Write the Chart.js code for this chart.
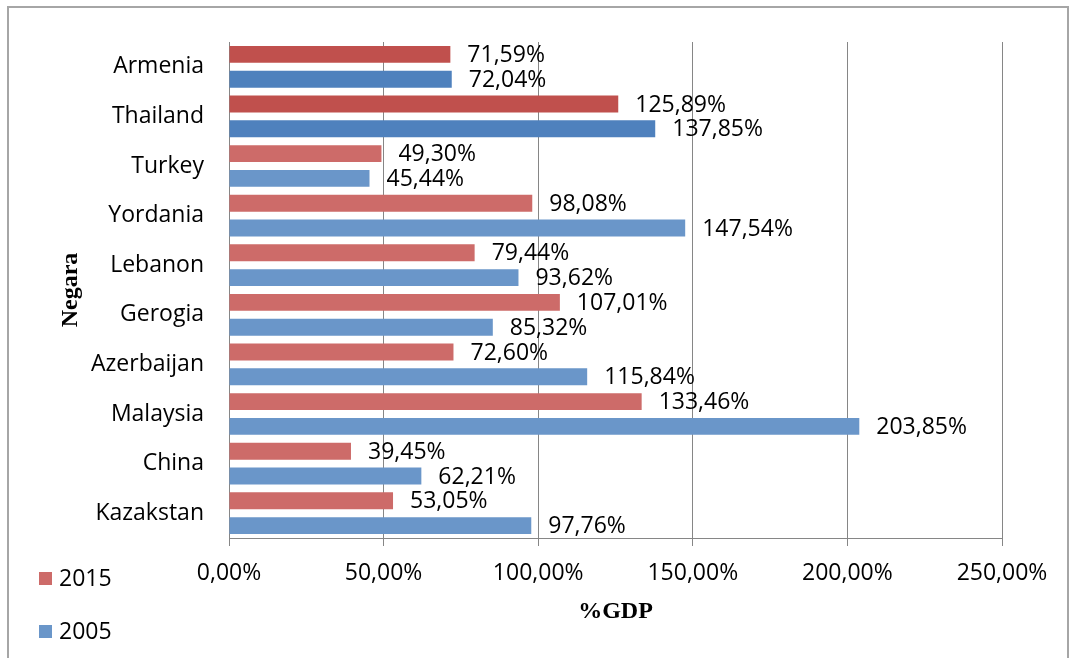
<!DOCTYPE html>
<html>
<head>
<meta charset="utf-8">
<script src="https://cdn.jsdelivr.net/npm/chart.js@4"></script>
<style>
  html, body { margin: 0; padding: 0; background: #fff; }
  #wrap { position: relative; width: 1076px; height: 658px; }
  #frame { position: absolute; left: 7px; top: 6px; width: 1062px; height: 660px; border: 2px solid #a6a6a6; box-sizing: border-box; }
  .leg { position: absolute; left: 39px; font: 23px "Open Sans", sans-serif; color: #000; line-height: 1; }
  .leg span { display: inline-block; width: 13px; height: 13px; margin-right: 7px; vertical-align: 1px; }
</style>
</head>
<body>
<div id="wrap">
  <div id="frame"></div>
  <canvas id="c" width="1076" height="658"></canvas>
  <div class="leg" style="top:566px"><span style="background:#cd6b69"></span>2015</div>
  <div class="leg" style="top:619px"><span style="background:#6a96c9"></span>2005</div>
</div>
<script>
const negara = ['Armenia', 'Thailand', 'Turkey', 'Yordania', 'Lebanon', 'Gerogia', 'Azerbaijan', 'Malaysia', 'China', 'Kazakstan']
const nilai2015 = [71.59, 125.89, 49.30, 98.08, 79.44, 107.01, 72.60, 133.46, 39.45, 53.05]
const nilai2005 = [72.04, 137.85, 45.44, 147.54, 93.62, 85.32, 115.84, 203.85, 62.21, 97.76]
const xTicks = [0, 50, 100, 150, 200, 250]

const fmt = v => v.toFixed(2).replace('.', ',') + '%'

const merah = { dark: '#c0504d', light: '#cd6b69' }
const biru = { dark: '#4f81bd', light: '#6a96c9' }

// labels drawn just past the end of each bar
const labelPlugin = {
    id: 'barLabels',
    afterDatasetsDraw(chart) {
        const ctx = chart.ctx
        ctx.save()
        ctx.font = '23px "Open Sans"'
        ctx.fillStyle = '#000'
        ctx.textBaseline = 'middle'
        ctx.textAlign = 'left'
        chart.data.datasets.forEach((ds, i) => {
            chart.getDatasetMeta(i).data.forEach((bar, j) => {
                ctx.fillText(fmt(ds.data[j]), bar.x + 17, bar.y + 1)
            })
        })
        ctx.restore()
    },
}

new Chart(document.getElementById('c'), {
    type: 'bar',
    data: {
        labels: negara,
        datasets: [
            {
                label: '2015',
                data: nilai2015,
                backgroundColor: c => (c.dataIndex < 2 ? merah.dark : merah.light),
            },
            {
                label: '2005',
                data: nilai2005,
                backgroundColor: c => (c.dataIndex < 2 ? biru.dark : biru.light),
            },
        ],
    },
    options: {
        indexAxis: 'y',
        responsive: false,
        animation: false,
        categoryPercentage: 1.0,
        barPercentage: 0.68,
        layout: { padding: { left: 0, top: 42, right: 74, bottom: 0 } },
        plugins: {
            legend: { display: false },
            tooltip: { enabled: false },
        },
        scales: {
            x: {
                min: 0,
                max: 250,
                afterBuildTicks: s => { s.ticks = xTicks.map(v => ({ value: v })) },
                afterFit: s => { s.height = 120 },
                grid: { color: '#868686', lineWidth: 1, tickLength: 8 },
                border: { color: '#868686' },
                ticks: {
                    color: '#000',
                    font: { family: 'Open Sans', size: 23 },
                    padding: 14,
                    callback: v => fmt(v),
                },
                title: {
                    display: true,
                    text: '%GDP',
                    color: '#000',
                    font: { family: 'Liberation Serif', size: 24, weight: 'bold' },
                    padding: { bottom: 32 },
                },
            },
            y: {
                afterFit: s => { s.width = 229 },
                grid: { display: false },
                border: { color: '#868686' },
                ticks: {
                    color: '#000',
                    font: { family: 'Open Sans', size: 23 },
                    padding: 17,
                },
                title: {
                    display: true,
                    text: 'Negara',
                    color: '#000',
                    font: { family: 'Liberation Serif', size: 24, weight: 'bold' },
                    padding: { top: 56 },
                },
            },
        },
    },
    plugins: [labelPlugin],
})
</script>
</body>
</html>
